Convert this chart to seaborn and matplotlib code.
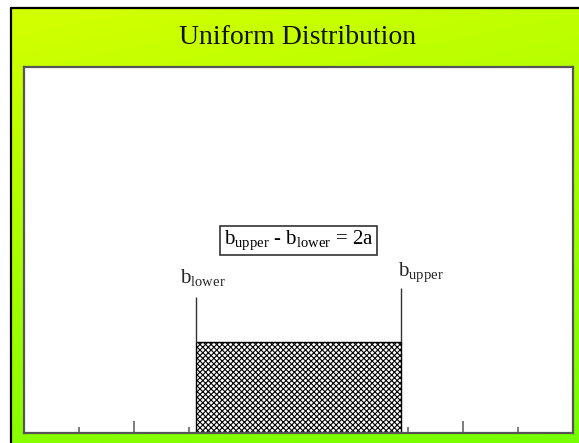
import numpy as np
import matplotlib
matplotlib.use("Agg")
import matplotlib.pyplot as plt
from matplotlib.lines import Line2D
import seaborn as sns

# data (x in tick units, centre of the distribution at 0)
b_lower = -1.87
b_upper = 1.87
height = 0.249          # uniform density level (axis runs 0..1)
line_top_lower = 0.372  # top of the marker line at b_lower
line_top_upper = 0.396  # top of the marker line at b_upper
major_ticks = [-3, -1, 1, 3]
minor_ticks = [-4, -2, 0, 2, 4]
title = "Uniform Distribution"
box_label = r"b$_{\mathrm{upper}}$ - b$_{\mathrm{lower}}$ = 2a"
lower_label = r"b$_{\mathrm{lower}}$"
upper_label = r"b$_{\mathrm{upper}}$"

sns.set_style("white")
plt.rcParams['font.family'] = ['Liberation Serif', 'DejaVu Serif']
plt.rcParams['mathtext.fontset'] = 'custom'
plt.rcParams['mathtext.rm'] = 'Liberation Serif'
plt.rcParams['mathtext.it'] = 'Liberation Serif:italic'
plt.rcParams['hatch.linewidth'] = 0.8
plt.rcParams['hatch.color'] = '#555555'

W, H = 579, 443
fig = plt.figure(figsize=(W / 100, H / 100), dpi=100, facecolor='white')

# green gradient frame
bg = fig.add_axes([10.5 / W, 0, 1 - 10.5 / W, 1 - 7.5 / H])
v = np.linspace(0, 1, 200)[:, None]
h = np.linspace(0, 1, 300)[None, :]
red = np.clip(212 - 75 * v - 20 * h, 0, 255) / 255
grad = np.dstack([red, np.ones_like(red), np.zeros_like(red)])
bg.imshow(grad, aspect='auto', extent=[0, 1, 0, 1], origin='upper',
          interpolation='bilinear')
bg.set_axis_off()
fig.add_artist(Line2D([10.5 / W, 10.5 / W], [0, 1 - 7.5 / H],
                      color='black', linewidth=1.6, transform=fig.transFigure))
fig.add_artist(Line2D([10.5 / W, 1], [1 - 7.5 / H, 1 - 7.5 / H],
                      color='black', linewidth=1.6, transform=fig.transFigure))

fig.text(298 / W, 1 - 44 / H, title, ha='center', va='baseline',
         fontsize=20, color='#111100')

# plot area
ax = fig.add_axes([24 / W, 10 / H, (573 - 24) / W, (433 - 67) / H])
ax.set_facecolor('white')

sns.histplot(x=[(b_lower + b_upper) / 2], bins=[b_lower, b_upper],
             weights=[height], stat='count', ax=ax, fill=True,
             color='white', edgecolor='black', linewidth=1.0,
             hatch='xxxxxx', alpha=1)

ax.vlines([b_lower, b_upper], height, [line_top_lower, line_top_upper],
          color='#333333', linewidth=1.0)

ax.set_xlim(-5, 5)
ax.set_ylim(0, 1)
ax.set_xlabel('')
ax.set_ylabel('')
ax.set_yticks([])
ax.set_xticks(major_ticks)
ax.set_xticks(minor_ticks, minor=True)
ax.tick_params(axis='x', which='major', direction='in', length=9,
               width=1.2, color='#666666', labelbottom=False, bottom=True)
ax.tick_params(axis='x', which='minor', direction='in', length=4,
               width=1.2, color='#666666', labelbottom=False, bottom=True)
for s in ax.spines.values():
    s.set_color('#555555')
    s.set_linewidth(1.6)

ax.text((b_lower + b_upper) / 2, 0.526, box_label, ha='center', va='center',
        fontsize=15, color='black',
        bbox=dict(boxstyle='square,pad=0.15', facecolor='white',
                  edgecolor='#333333', linewidth=1.2))
ax.text(-2.155, 0.41, lower_label, ha='left', va='baseline', fontsize=15)
ax.text(1.81, 0.429, upper_label, ha='left', va='baseline', fontsize=15)

fig.savefig('out.png', dpi=100, facecolor='white')
